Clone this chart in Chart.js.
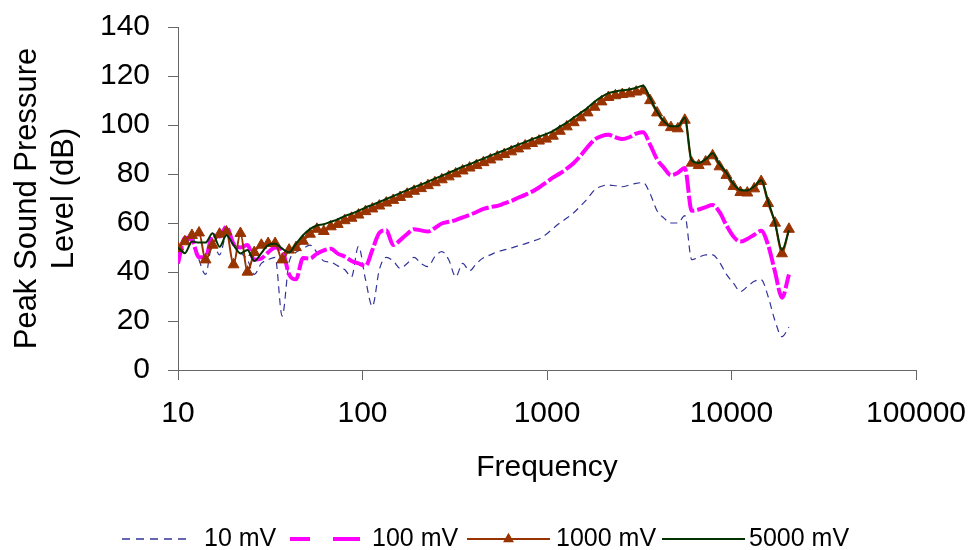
<!DOCTYPE html>
<html><head><meta charset="utf-8">
<script src="https://cdn.jsdelivr.net/npm/chart.js@4.4.0/dist/chart.umd.min.js"></script>
<style>html,body{margin:0;padding:0;background:#fff;}canvas{display:block;}</style>
</head><body>
<canvas id="c" width="974" height="550"></canvas>
<script>
const frequencies = [10, 10.9, 11.9, 13, 14.1, 15.4, 16.8, 18.3, 20, 21.8, 23.8, 25.9, 28.3, 30.8, 33.6, 36.7,
  40, 43.6, 47.6, 51.9, 56.6, 61.7, 67.3, 73.4, 80, 87.2, 95.1, 103.8, 113.1, 123.4, 134.5, 146.7,
  160, 174.5, 190.3, 207.5, 226.3, 246.8, 269.1, 293.4, 320, 349, 380.6, 415, 452.5, 493.5, 538.2, 586.9,
  640, 697.9, 761.1, 830, 905.1, 987, 1076, 1174, 1280, 1396, 1522, 1660, 1810, 1974, 2153, 2348,
  2560, 2792, 3044, 3320, 3620, 3948, 4305, 4695, 5120, 5583, 6089, 6640, 7241, 7896, 8611, 9390,
  10240, 11167, 12177, 13280, 14482, 15792, 17222, 18780, 20480];

const mv10 = [48, 50, 55, 45, 39, 52, 47, 55, 52, 48, 45, 39, 43.5, 45, 46, 22,
  44, 48, 49.5, 51, 48, 44.5, 44, 42.5, 41, 38, 50.5, 37, 26, 41, 46, 44.5,
  41.5, 43.5, 46, 43.5, 42.2, 46.3, 48.3, 45, 38, 43.5, 40.5, 43.5, 45.8, 47, 48.3, 49,
  49.8, 50.7, 51.5, 52.5, 53.5, 55.3, 57.7, 60, 62, 64.2, 67, 70, 73.5, 75, 75.5, 75.2,
  74.8, 75.5, 76.2, 76.5, 72, 65, 62, 60, 60, 63, 45, 46, 47, 47, 44, 39,
  35.5, 32, 34, 36.2, 36.8, 30, 20, 13.6, 17.5];

const mv100 = [43.5, 54, 53, 46, 46, 55, 54.5, 58.5, 51.5, 50, 51, 45, 45.5, 48, 50, 49,
  39, 37, 45.7, 45.5, 47.5, 48.8, 49.5, 47.5, 46.3, 44.5, 43.5, 42.5, 49, 56, 57, 51,
  53, 55.5, 57.5, 57, 56.5, 58, 59.8, 60.5, 61.2, 62.3, 63.3, 64.5, 65.8, 66.5, 67, 68,
  69, 70.3, 71.5, 72.8, 74.5, 76.5, 78.5, 80.2, 82.2, 84.5, 87.5, 91, 94, 95.5, 96, 95,
  94.3, 95, 96.5, 97, 92, 86, 82.5, 79.5, 80.5, 82.5, 65, 65.5, 66.5, 67.3, 64.5, 59,
  54.5, 52.4, 53.5, 55.2, 56.8, 51, 40, 29.5, 39];

const mv1000 = [49.7, 52.4, 55, 56, 45, 51, 55.5, 56.4, 43, 55.8, 40, 48, 51, 51.7, 51.7, 45,
  49, 50, 52.6, 55.5, 57.5, 56.6, 58.5, 59.5, 61, 62, 63.3, 64.7, 65.8, 67, 68.2, 69.3,
  70.5, 71.8, 73, 74.1, 75.3, 76.5, 77.7, 78.9, 80.1, 81.3, 82.5, 83.5, 84.7, 85.8, 87, 88,
  89.1, 90.3, 91.5, 92.5, 93.5, 94.3, 95.5, 97.5, 99.3, 101, 103, 105, 107.3, 109.5, 111.3, 112,
  112.5, 112.8, 113.5, 114, 110, 105, 101, 99, 98.5, 102, 84.5, 83.5, 85, 87.5, 83, 79.5,
  75, 72.5, 72.3, 74, 77, 68, 60, 47.5, 57.5];

const mv5000 = [50, 47.7, 52.4, 52, 52, 55.8, 50.3, 55, 51, 47.6, 49, 44.5, 47.7, 51, 51.5, 49.5,
  48, 51.5, 55, 57.5, 59, 59.5, 60.5, 61.5, 62.8, 63.8, 65, 66.3, 67.4, 68.6, 69.8, 71,
  72.2, 73.4, 74.6, 75.7, 76.9, 78.1, 79.3, 80.5, 81.7, 83, 84, 85.2, 86.3, 87.5, 88.6, 89.7,
  90.8, 92, 93, 94.2, 95.2, 96.3, 97.5, 99.3, 101, 103, 105, 107, 109.5, 111.5, 113, 113.7,
  114.2, 114.5, 115.2, 116, 111, 105.5, 101.5, 99.5, 99.5, 103, 85.5, 84.5, 86, 88.5, 84, 80.5,
  76, 73.5, 73.3, 75, 77.5, 69, 60, 49, 57];

const seriesNames = ['10 mV', '100 mV', '1000 mV', '5000 mV'];
const xTickValues = [10, 100, 1000, 10000, 100000];
const yTickValues = [0, 20, 40, 60, 80, 100, 120, 140];
const xTitle = 'Frequency';
const yTitle = ['Peak Sound Pressure', 'Level (dB)'];

const toPoints = arr => frequencies.map((f, i) => ({x: f, y: arr[i]}));

Chart.defaults.font.family = '"Liberation Sans", Arial, sans-serif';
Chart.defaults.color = '#000';

const styles = [
  {borderColor: '#333399', borderWidth: 1.2, borderDash: [7, 5], pointRadius: 0, legendDash: [8, 6], legendWidth: 1.5},
  {borderColor: '#FF00FF', borderWidth: 4, borderDash: [18, 3], pointRadius: 0, legendDash: [20, 23, 27, 23], legendWidth: 4},
  {borderColor: '#993300', borderWidth: 2, borderDash: [], pointRadius: 6.3, pointStyle: 'triangle',
   pointBackgroundColor: '#993300', pointBorderColor: '#993300', pointBorderWidth: 1, legendDash: [], legendWidth: 2},
  {borderColor: '#003300', borderWidth: 2, borderDash: [], pointRadius: 0, legendDash: [], legendWidth: 2}
];
const allSeries = [mv10, mv100, mv1000, mv5000];

const datasets = allSeries.map((arr, i) => {
  const s = styles[i];
  return {
    label: seriesNames[i],
    data: toPoints(arr),
    borderColor: s.borderColor,
    backgroundColor: s.borderColor,
    borderWidth: s.borderWidth,
    borderDash: s.borderDash,
    pointRadius: s.pointRadius,
    pointStyle: s.pointStyle || 'circle',
    pointBackgroundColor: s.pointBackgroundColor || s.borderColor,
    pointBorderColor: s.pointBorderColor || s.borderColor,
    pointBorderWidth: s.pointBorderWidth || 0,
    cubicInterpolationMode: 'monotone',
    fill: false,
    order: 4 - i
  };
});

const legendLayout = [
  {x0: 122, x1: 192, tx: 204},
  {x0: 290, x1: 360, tx: 372},
  {x0: 467, x1: 550, tx: 556},
  {x0: 662, x1: 745, tx: 749}
];

const customLegend = {
  id: 'customLegend',
  afterDraw(chart) {
    const ctx = chart.ctx;
    const y = 539;
    ctx.save();
    chart.data.datasets.forEach((ds, i) => {
      const s = styles[i];
      const L = legendLayout[i];
      ctx.beginPath();
      ctx.setLineDash(s.legendDash);
      ctx.lineWidth = s.legendWidth;
      ctx.strokeStyle = s.borderColor;
      ctx.moveTo(L.x0, y);
      ctx.lineTo(L.x1, y);
      ctx.stroke();
      ctx.setLineDash([]);
      if (s.pointStyle === 'triangle') {
        const cx = (L.x0 + L.x1) / 2;
        const r = 6.3;
        ctx.fillStyle = s.borderColor;
        ctx.beginPath();
        ctx.moveTo(cx, y - r);
        ctx.lineTo(cx + r * 0.866, y + r * 0.5);
        ctx.lineTo(cx - r * 0.866, y + r * 0.5);
        ctx.closePath();
        ctx.fill();
      }
      ctx.fillStyle = '#000';
      ctx.font = '25px "Liberation Sans", Arial, sans-serif';
      ctx.textBaseline = 'middle';
      ctx.textAlign = 'left';
      ctx.fillText(ds.label, L.tx, y);
    });
    ctx.restore();
  }
};

new Chart(document.getElementById('c'), {
  type: 'line',
  data: {datasets},
  plugins: [customLegend],
  options: {
    responsive: false,
    animation: false,
    devicePixelRatio: 1,
    layout: {padding: {top: 27, right: 58, bottom: 64, left: 0}},
    plugins: {legend: {display: false}, tooltip: {enabled: false}},
    scales: {
      x: {
        type: 'logarithmic', position: 'bottom', min: 10, max: 100000,
        afterBuildTicks: s => { s.ticks = xTickValues.map(v => ({value: v})); },
        afterFit: s => { s.height = 116; s.paddingLeft = 0; s.paddingRight = 0; },
        ticks: {color: '#000', font: {size: 30}, padding: 16, autoSkip: false, maxRotation: 0,
                callback: v => String(v)},
        grid: {drawOnChartArea: false, drawTicks: true, tickLength: 10, color: '#666'},
        border: {display: true, color: '#666', width: 1},
        title: {display: true, text: xTitle, color: '#000', font: {size: 30}, padding: {top: 0, bottom: 0}}
      },
      y: {
        type: 'linear', min: 0, max: 140,
        afterBuildTicks: s => { s.ticks = yTickValues.map(v => ({value: v})); },
        afterFit: s => { s.width = 178; s.paddingTop = 0; s.paddingBottom = 0; },
        ticks: {color: '#000', font: {size: 30}, padding: 18},
        grid: {drawOnChartArea: false, drawTicks: true, tickLength: 10, color: '#666'},
        border: {display: true, color: '#666', width: 1},
        title: {display: true, text: yTitle, color: '#000', font: {size: 31}, padding: {top: 9, bottom: 0}}
      }
    }
  }
});
</script>
</body></html>
